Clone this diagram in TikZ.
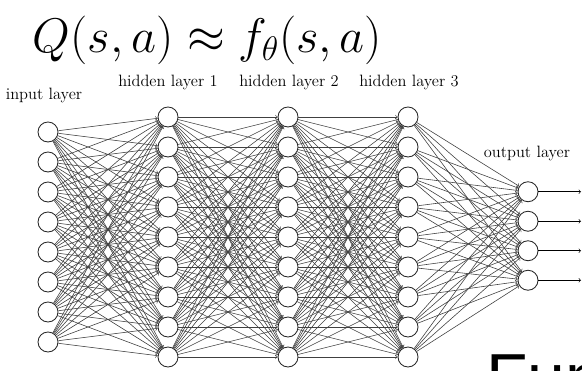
\RequirePackage{fix-cm}
\documentclass[tikz,border=0pt]{standalone}
\usepackage{amsmath,amssymb}
\usepackage{fontspec}
\newfontfamily\headfont{Liberation Sans}
\usetikzlibrary{positioning,shapes,arrows}

\begin{document}
\begin{tikzpicture}[x=0.03cm, y=-0.03cm, neuron/.style={circle, draw=black!85, fill=white, minimum size=0.6cm, inner sep=0pt, line width=0.75pt}, link/.style={->, draw=black!75, line width=0.5pt}, lbl/.style={inner sep=0pt, font=\fontsize{14}{16}\selectfont}]
\useasboundingbox (0,0) rectangle (582,371);

\node[inner sep=0pt, anchor=base] (title) at (207.5,53) {\fontsize{41.5}{45}\selectfont $Q(s,a) \approx f_\theta(s,a)$};

\foreach \i in {1,...,8}
  \node[neuron] (I-\i) at (48, {237+30*(\i-4.5)}) {};
\foreach \l/\x in {1/168, 2/288, 3/408}
  \foreach \i in {1,...,9}
    \node[neuron] (H\l-\i) at (\x, {237+30*(\i-5)}) {};
\foreach \i in {1,...,4}
  \node[neuron] (O-\i) at (528, {236+29.5*(\i-2.5)}) {};

\foreach \a in {1,...,8}
  \foreach \b in {1,...,9}
    \draw[link] (I-\a) -- (H1-\b);
\foreach \l/\m in {1/2, 2/3}
  \foreach \a in {1,...,9}
    \foreach \b in {1,...,9}
      \draw[link] (H\l-\a) -- (H\m-\b);
\foreach \a in {1,...,9}
  \foreach \b in {1,...,4}
    \draw[link] (H3-\a) -- (O-\b);
\foreach \i in {1,...,4} {
  \coordinate (Y-\i) at (581, {236+29.5*(\i-2.5)});
  \draw[->, line width=0.5pt] (O-\i) -- (Y-\i);
}

\node[lbl, anchor=base] (inlbl) at (44,100) {input layer};
\node[lbl, anchor=base] (h1lbl) at (168,87) {hidden layer 1};
\node[lbl, anchor=base] (h2lbl) at (289,87) {hidden layer 2};
\node[lbl, anchor=base] (h3lbl) at (409,87) {hidden layer 3};
\node[lbl, anchor=base] (outlbl) at (527,158) {output layer};

\node[inner sep=0pt, anchor=base west, font=\headfont\fontsize{58}{60}\selectfont] (fun) at (486,401) {Fun};
\end{tikzpicture}
\end{document}
